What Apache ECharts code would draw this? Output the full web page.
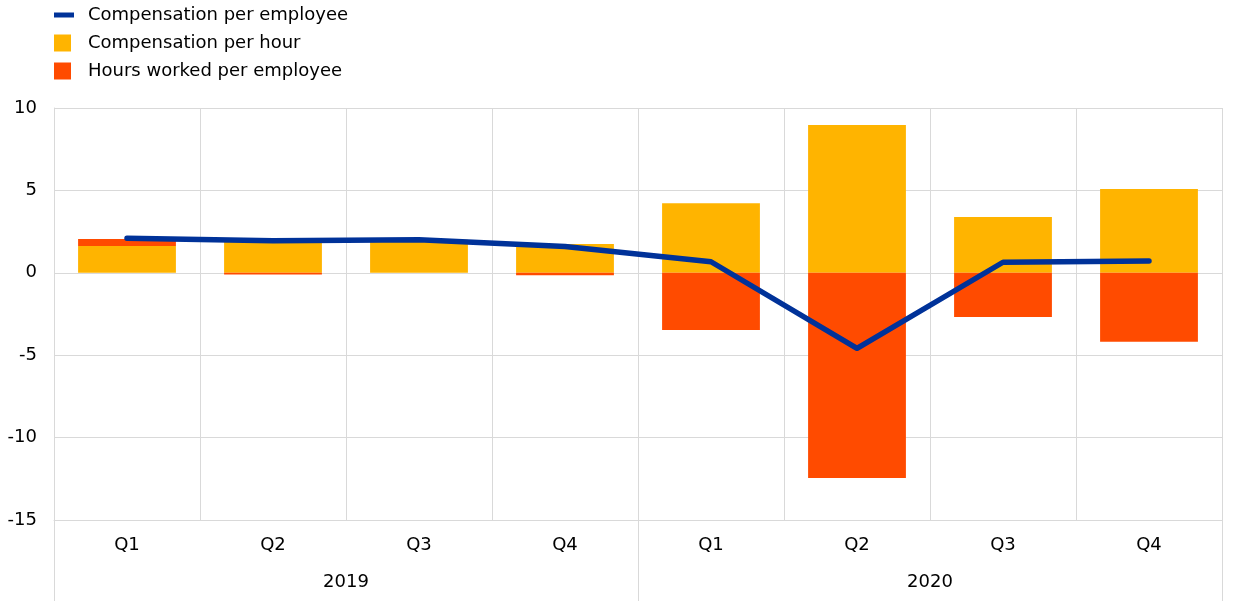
<!DOCTYPE html>
<html>
<head>
<meta charset="utf-8">
<script src="https://cdn.jsdelivr.net/npm/echarts@6/dist/echarts.min.js"></script>
<style>
html,body{margin:0;padding:0;background:#fff;}
#chart{width:1240px;height:601px;}
</style>
</head>
<body>
<div id="chart"></div>
<script>
const quarters = ['Q1','Q2','Q3','Q4','Q1','Q2','Q3','Q4'];
const years = ['2019','2020'];
const compPerHour = [1.63, 2.0, 2.0, 1.75, 4.22, 8.97, 3.39, 5.08];
const hoursPerEmployee = [0.42, -0.1, 0.0, -0.15, -3.47, -12.45, -2.68, -4.18];
const compPerEmployee = [2.09, 1.95, 2.0, 1.6, 0.67, -4.58, 0.64, 0.72];
const yTicks = { min: -15, max: 10, interval: 5 };

const FONT = '"DejaVu Sans", "Liberation Sans", Arial, sans-serif';
const GRID = '#d9d9d9';
const chart = echarts.init(document.getElementById('chart'), null, {renderer:'canvas'});
chart.setOption({
  animation: false,
  textStyle: { fontFamily: FONT, color: '#000' },
  legend: [
    {
      data: ['Compensation per employee'],
      left: 54, top: 6, orient: 'vertical', padding: 0,
      icon: 'rect', itemWidth: 20, itemHeight: 5,
      textStyle: { fontSize: 18, fontFamily: FONT, color: '#000', padding: [0,0,0,9] }
    },
    {
      data: ['Compensation per hour', 'Hours worked per employee'],
      left: 54, top: 34, orient: 'vertical', padding: 0,
      icon: 'rect', itemWidth: 17, itemHeight: 17, itemGap: 10,
      textStyle: { fontSize: 18, fontFamily: FONT, color: '#000', padding: [0,0,0,12] }
    }
  ],
  grid: { left: 54, right: 18, top: 108, bottom: 81, containLabel: false },
  xAxis: [
    {
      type: 'category', data: quarters, position: 'bottom',
      axisLine: { onZero: false, lineStyle: { color: GRID, width: 1 } },
      axisTick: { show: false },
      axisLabel: { fontSize: 18, color: '#000', margin: 16, fontFamily: FONT },
      splitLine: { show: true, lineStyle: { color: GRID, width: 1 } }
    },
    {
      type: 'category', data: years, position: 'bottom',
      axisLine: { show: true, onZero: false, lineStyle: { color: 'rgba(0,0,0,0)', width: 1 } },
      axisTick: { show: true, length: 81, interval: 0, lineStyle: { color: GRID, width: 1 } },
      axisLabel: { fontSize: 18, color: '#000', margin: 53, fontFamily: FONT },
      splitLine: { show: false }
    }
  ],
  yAxis: {
    type: 'value', min: yTicks.min, max: yTicks.max, interval: yTicks.interval,
    axisLine: { show: true, lineStyle: { color: GRID } },
    axisTick: { show: false },
    axisLabel: { fontSize: 18, color: '#000', margin: 17, fontFamily: FONT },
    splitLine: { show: true, lineStyle: { color: GRID, width: 1 } }
  },
  series: [
    {
      name: 'Compensation per hour', type: 'bar', stack: 'total', xAxisIndex: 0,
      data: compPerHour, barCategoryGap: '33%',
      itemStyle: { color: '#FFB400' }
    },
    {
      name: 'Hours worked per employee', type: 'bar', stack: 'total', xAxisIndex: 0,
      data: hoursPerEmployee, barCategoryGap: '33%',
      itemStyle: { color: '#FF4B00' }
    },
    {
      name: 'Compensation per employee', type: 'line', xAxisIndex: 0,
      data: compPerEmployee, symbol: 'none', z: 5,
      lineStyle: { color: '#003299', width: 5.5, cap: 'round', join: 'round' },
      itemStyle: { color: '#003299' }
    }
  ]
});
</script>
</body>
</html>
